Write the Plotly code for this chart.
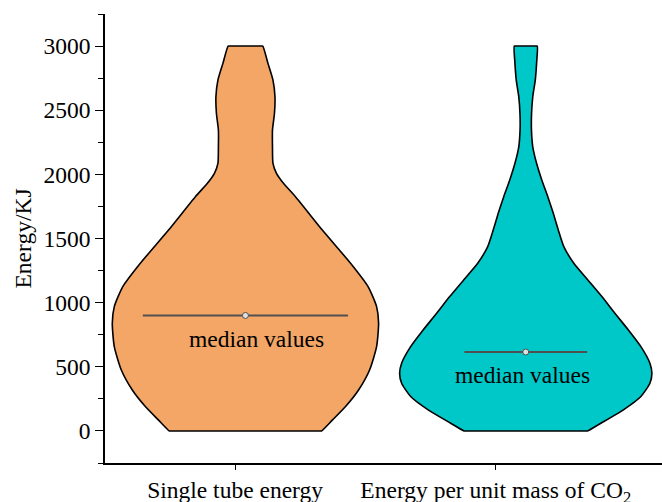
import plotly.graph_objects as go

# ---- data ----
categories = ["Single tube energy", "Energy per unit mass of CO<sub>2</sub>"]

# violin outline: energy levels (KJ) and half-width (relative density) at each level
single_levels = [0, 86, 190, 319, 475, 657, 839, 969, 1125, 1307, 1566, 1826, 1930, 2008,
                 2086, 2215, 2345, 2476, 2605, 2735, 2865, 3000]
single_halfw = [76, 87, 100, 113, 124, 131, 133, 131, 122.5, 105, 76.8, 50, 38, 31,
                27.5, 27, 27, 29, 29.5, 27.5, 22.5, 17.3]

co2_levels = [0, 60, 164, 268, 372, 450, 528, 657, 787, 917, 1047, 1177, 1307, 1437,
              1566, 1696, 1826, 1956, 2086, 2215, 2345, 2476, 2605, 2735, 2865, 3000]
co2_halfw = [61.7, 75, 97.5, 115, 124, 126, 124, 115, 102.5, 89, 76, 62, 48, 38,
             32.5, 27.5, 22, 16, 10.8, 7, 5.7, 5.8, 7, 9.5, 10.8, 11.5]

medians = [900, 615]
median_halfw = [102.5, 61.3]

y_tick_vals = [0, 500, 1000, 1500, 2000, 2500, 3000]

# ---- styling / layout ----
FONT = "Liberation Serif"
FS = 23.5
COLORS = ["#F3A666", "#00C8C8"]
SCALE = 280.0           # density units -> x-axis units
CENTERS = [1.0, 2.0]    # violin centres
TICK_POS = [0.963, 1.893]
EPS = 1.5               # helper offset keeping flat ends flat under spline smoothing

fig = go.Figure()

for i, (lv, hw) in enumerate([(single_levels, single_halfw), (co2_levels, co2_halfw)]):
    c = CENTERS[i]
    top, bot = lv[-1], lv[0]
    xs = ([c + (hw[0] - EPS) / SCALE] + [c + w / SCALE for w in hw] +
          [c + (hw[-1] - EPS) / SCALE, c - (hw[-1] - EPS) / SCALE] +
          [c - w / SCALE for w in reversed(hw)] + [c - (hw[0] - EPS) / SCALE, c + (hw[0] - EPS) / SCALE])
    ys = ([bot] + list(lv) + [top, top] + list(reversed(lv)) + [bot, bot])
    fig.add_trace(go.Scatter(
        x=xs, y=ys, mode="lines", fill="toself", fillcolor=COLORS[i],
        line=dict(color="black", width=1.6, shape="spline", smoothing=0.6),
        hoverinfo="skip", showlegend=False))

for i in range(2):
    c = CENTERS[i]
    h = median_halfw[i] / SCALE
    fig.add_trace(go.Scatter(
        x=[c - h, c + h], y=[medians[i], medians[i]], mode="lines",
        line=dict(color="#505050", width=2), showlegend=False, hoverinfo="skip"))
    fig.add_trace(go.Scatter(
        x=[c], y=[medians[i]], mode="markers",
        marker=dict(symbol="circle", size=6, color="#e0e0e0",
                    line=dict(color="#505050", width=1)),
        showlegend=False, hoverinfo="skip"))

fig.add_annotation(x=1.039, y=717, text="median values", showarrow=False,
                   font=dict(family=FONT, size=FS, color="black"), xanchor="center", yanchor="middle")
fig.add_annotation(x=1.99, y=439, text="median values", showarrow=False,
                   font=dict(family=FONT, size=FS, color="black"), xanchor="center", yanchor="middle")

fig.update_layout(
    width=662, height=502,
    margin=dict(l=105, r=0, t=14, b=39),
    paper_bgcolor="white", plot_bgcolor="white",
    font=dict(family=FONT, size=FS, color="black"),
    xaxis=dict(range=[0.499, 2.486], tickmode="array", tickvals=TICK_POS, ticktext=categories,
               showgrid=False, zeroline=False, showline=True, linecolor="black", linewidth=1.6,
               ticks="outside", ticklen=5, tickwidth=1.4, tickcolor="black", automargin=False,
               tickfont=dict(family=FONT, size=FS, color="black")),
    yaxis=dict(range=[-250, 3250], tickmode="array", tickvals=y_tick_vals,
               showgrid=False, zeroline=False, showline=True, linecolor="black", linewidth=1.6,
               ticks="outside", ticklen=8, tickwidth=1.4, tickcolor="black", automargin=False,
               tickfont=dict(family=FONT, size=FS, color="black"),
               minor=dict(ticks="outside", ticklen=5, dtick=250, tick0=0, tickcolor="black", tickwidth=1.2),
               title=dict(text="Energy/KJ", standoff=5, font=dict(family=FONT, size=FS, color="black"))),
)

fig.write_html("out.html")
